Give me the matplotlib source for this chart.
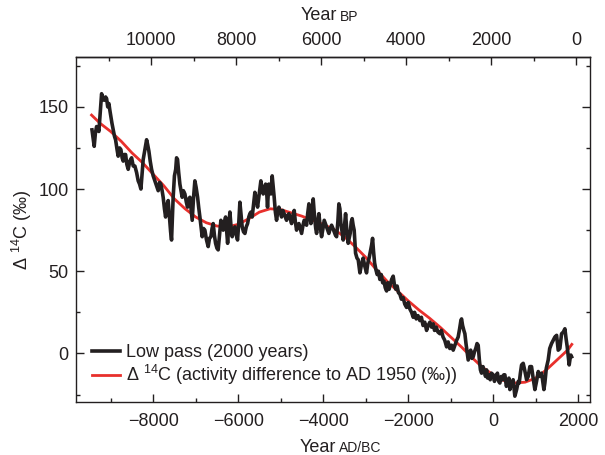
import matplotlib
matplotlib.use("Agg")
import matplotlib.pyplot as plt
from matplotlib.ticker import MultipleLocator

plt.rcParams['font.family'] = ['Liberation Sans', 'DejaVu Sans']
plt.rcParams['mathtext.fontset'] = 'custom'
plt.rcParams['mathtext.rm'] = 'Liberation Sans'
plt.rcParams['mathtext.it'] = 'Liberation Sans:italic'

# smooth Delta 14C curve (year AD/BC, per mil)
red_years = [-9450, -9250, -9000, -8750, -8500, -8250, -8000, -7750, -7500, -7250,
             -7000, -6750, -6500, -6250, -6000, -5750, -5500, -5250, -5000, -4750,
             -4500, -4250, -4000, -3750, -3500, -3250, -3000, -2750, -2500, -2250,
             -2000, -1750, -1500, -1250, -1000, -750, -500, -250, 0, 250,
             500, 750, 1000, 1250, 1500, 1750, 1850]
red_vals = [145, 140, 135, 129, 122, 116, 109, 102, 94, 88,
            83, 79.5, 77.5, 77, 78.5, 82, 86, 88, 87.5, 85.5,
            83.5, 81, 78.5, 75.5, 71, 65, 58.5, 51, 44, 38,
            32, 26.5, 21.5, 16, 10, 4, -2.5, -8.5, -13, -16.5,
            -18, -17.5, -15, -10, -4, 2, 5.5]

# low pass record (year AD/BC, per mil)
lp_years = [-9440, -9410, -9388, -9360, -9332, -9300, -9278, -9250, -9214, -9180,
            -9153, -9120, -9096, -9070, -9042, -9020, -8995, -8970, -8941, -8910,
            -8885, -8850, -8824, -8790, -8760, -8730, -8706, -8680, -8649, -8620,
            -8588, -8550, -8508, -8470, -8431, -8390, -8353, -8320, -8289, -8260,
            -8235, -8195, -8155, -8130, -8101, -8070, -8038, -8000, -7960, -7920,
            -7882, -7850, -7820, -7790, -7765, -7735, -7708, -7680, -7647, -7620,
            -7590, -7568, -7553, -7530, -7500, -7470, -7450, -7427, -7400, -7372,
            -7345, -7318, -7290, -7254, -7220, -7191, -7160, -7136, -7110, -7082,
            -7050, -7019, -6990, -6955, -6930, -6901, -6870, -6847, -6815, -6784,
            -6745, -6706, -6675, -6642, -6615, -6588, -6560, -6532, -6500, -6471,
            -6440, -6407, -6380, -6353, -6325, -6296, -6270, -6249, -6220, -6195,
            -6165, -6141, -6110, -6078, -6045, -6015, -5985, -5960, -5930, -5906,
            -5875, -5842, -5810, -5779, -5750, -5725, -5700, -5671, -5640, -5607,
            -5575, -5544, -5505, -5466, -5440, -5412, -5385, -5355, -5325, -5310,
            -5280, -5250, -5231, -5200, -5175, -5153, -5125, -5097, -5070, -5042,
            -5010, -4979, -4950, -4918, -4890, -4862, -4835, -4807, -4775, -4744,
            -4712, -4682, -4655, -4626, -4600, -4572, -4540, -4508, -4475, -4447,
            -4420, -4391, -4365, -4336, -4310, -4289, -4262, -4235, -4215, -4195,
            -4175, -4155, -4130, -4101, -4070, -4038, -4005, -3976, -3948, -3920,
            -3893, -3866, -3835, -3802, -3770, -3741, -3712, -3685, -3655, -3631,
            -3607, -3584, -3555, -3529, -3500, -3473, -3445, -3412, -3390, -3365,
            -3340, -3318, -3295, -3271, -3250, -3238, -3205, -3176, -3150, -3136,
            -3100, -3060, -3020, -2980, -2950, -2920, -2890, -2860, -2838, -2815,
            -2790, -2760, -2730, -2700, -2666, -2635, -2600, -2570, -2540, -2508,
            -2480, -2450, -2420, -2390, -2353, -2320, -2290, -2260, -2230, -2195,
            -2160, -2120, -2080, -2038, -2000, -1960, -1920, -1882, -1850, -1810,
            -1770, -1725, -1690, -1650, -1610, -1567, -1530, -1490, -1450, -1412,
            -1380, -1340, -1300, -1254, -1220, -1180, -1140, -1096, -1060, -1020,
            -980, -941, -900, -860, -824, -790, -760, -744, -720, -690,
            -666, -640, -610, -588, -560, -530, -500, -470, -440, -410,
            -380, -353, -325, -300, -273, -240, -210, -180, -155, -130,
            -100, -70, -40, 0, 30, 60, 100, 130, 157, 190,
            220, 250, 275, 310, 340, 370, 393, 430, 470, 510,
            551, 590, 612, 640, 668, 706, 740, 786, 824, 863,
            902, 940, 981, 1020, 1060, 1099, 1140, 1193, 1216, 1250,
            1294, 1330, 1373, 1412, 1452, 1492, 1530, 1569, 1609, 1650,
            1687, 1715, 1742, 1770, 1788, 1810, 1828, 1845]
lp_vals = [136, 130, 126, 134, 138, 137, 135, 145, 158, 155,
           154, 156, 155, 150, 152, 148, 144, 140, 136, 132,
           130, 124, 120, 125, 124, 119, 117, 121, 121, 115,
           112, 117, 119, 114, 114, 110, 105, 103, 100, 110,
           118, 124, 130, 127, 123, 117, 112, 108, 105, 102,
           99, 104, 103, 99, 95, 88, 83, 90, 93, 84,
           74, 69, 80, 95, 108, 112, 119, 118, 110, 103,
           99, 95, 99, 97, 92, 89, 94, 95, 88, 81,
           95, 105, 101, 95, 89, 83, 76, 71, 76, 75,
           69, 65, 70, 71, 76, 79, 72, 67, 64, 63,
           72, 81, 77, 75, 80, 83, 74, 67, 78, 86,
           76, 71, 75, 77, 72, 69, 80, 92, 84, 77,
           74, 73, 77, 79, 83, 85, 86, 83, 90, 98,
           94, 89, 97, 105, 100, 97, 100, 103, 96, 89,
           103, 99, 97, 108, 101, 95, 86, 81, 86, 89,
           86, 83, 87, 85, 83, 81, 84, 85, 82, 79,
           84, 87, 80, 75, 78, 79, 76, 73, 78, 81,
           80, 78, 85, 91, 84, 79, 86, 94, 87, 81,
           76, 73, 79, 85, 77, 71, 76, 81, 79, 77,
           75, 73, 76, 78, 76, 74, 72, 71, 80, 91,
           88, 79, 74, 69, 77, 85, 75, 67, 70, 73,
           80, 82, 78, 75, 66, 61, 58, 57, 52, 49,
           54, 58, 53, 49, 55, 58, 62, 66, 70, 62,
           55, 51, 48, 50, 45, 48, 43, 44, 40, 38,
           43, 39, 42, 45, 47, 41, 39, 41, 37, 36,
           33, 34, 30, 28, 31, 27, 25, 22, 25, 21,
           23, 20, 22, 17, 19, 14, 17, 19, 16, 18,
           14, 16, 13, 12, 14, 10, 8, 4, 7, 3,
           5, 2, 5, 8, 10, 15, 20, 21, 17, 14,
           12, 6, 0, -4, -1, 2, -3, -2, 1, 3,
           6, 5, -4, -10, -12, -8, -11, -14, -10, -15,
           -13, -16, -12, -13, -17, -14, -12, -17, -18, -14,
           -16, -13, -13, -20, -18, -15, -22, -18, -16, -26,
           -22, -17, -18, -12, -7, -6, -10, -16, -14, -8,
           -8, -15, -22, -17, -11, -14, -12, -22, -18, -9,
           -4, 3, 6, 8, 10, 11, 2, 3, 12, 13,
           15, 9, 4, -3, -7, -3, -1, -2]

xticks_ad = [-8000, -6000, -4000, -2000, 0, 2000]
xticks_bp = [10000, 8000, 6000, 4000, 2000, 0]
yticks = [0, 50, 100, 150]

BLACK = '#231f20'
RED = '#e8302c'
TXT = '#231f20'
FS = 13

fig = plt.figure(figsize=(6.05, 4.55), dpi=100)
ax = fig.add_axes([0.125, 0.117, 0.85, 0.758])

ax.plot(red_years, red_vals, color=RED, lw=2.0, zorder=2,
        label=r'$\Delta$ $^{14}$C (activity difference to AD 1950 (‰))')
ax.plot(lp_years, lp_vals, color=BLACK, lw=2.6, zorder=3, label='Low pass (2000 years)')

ax.set_xlim(-9825, 2275)
ax.set_ylim(-29.4, 180.4)
ax.set_xticks(xticks_ad)
ax.xaxis.set_minor_locator(MultipleLocator(1000))
ax.set_yticks(yticks)
ax.yaxis.set_minor_locator(MultipleLocator(25))

ax.tick_params(which='both', direction='in', right=True, color=TXT,
               labelsize=FS, labelcolor=TXT, width=1.0)
ax.tick_params(which='major', length=5.5)
ax.tick_params(which='minor', length=3)
ax.tick_params(axis='x', which='major', pad=8)
ax.tick_params(axis='y', which='major', pad=5)
for s in ax.spines.values():
    s.set_linewidth(1.0)
    s.set_color(TXT)

top = ax.secondary_xaxis('top', functions=(lambda x: 1950 - x, lambda x: 1950 - x))
top.set_xticks(xticks_bp)
top.xaxis.set_minor_locator(MultipleLocator(1000))
top.tick_params(which='both', direction='in', color=TXT, labelsize=FS, labelcolor=TXT, width=1.0)
top.tick_params(which='major', length=5.5, pad=6)
top.tick_params(which='minor', length=3)
top.spines['top'].set_linewidth(1.0)

ax.set_ylabel(r'$\Delta$ $^{14}$C (‰)', fontsize=FS, color=TXT, labelpad=3)

# axis titles with small caps parts
fig.text(336 / 605, 1 - 447 / 455, 'Year', ha='right', va='center', fontsize=FS, color=TXT)
fig.text(339 / 605, 1 - 448 / 455, 'AD/BC', ha='left', va='center', fontsize=10, color=TXT)
fig.text(337 / 605, 1 - 16 / 455, 'Year', ha='right', va='center', fontsize=FS, color=TXT)
fig.text(340 / 605, 1 - 17 / 455, 'BP', ha='left', va='center', fontsize=10, color=TXT)

h, l = ax.get_legend_handles_labels()
ax.legend(h[::-1], l[::-1], loc='lower left', bbox_to_anchor=(0.01, 0.01),
          frameon=False, fontsize=FS, handlelength=1.6, handletextpad=0.3,
          labelspacing=0.12, borderaxespad=0.2, labelcolor=TXT)

fig.savefig('out.png', dpi=100)
